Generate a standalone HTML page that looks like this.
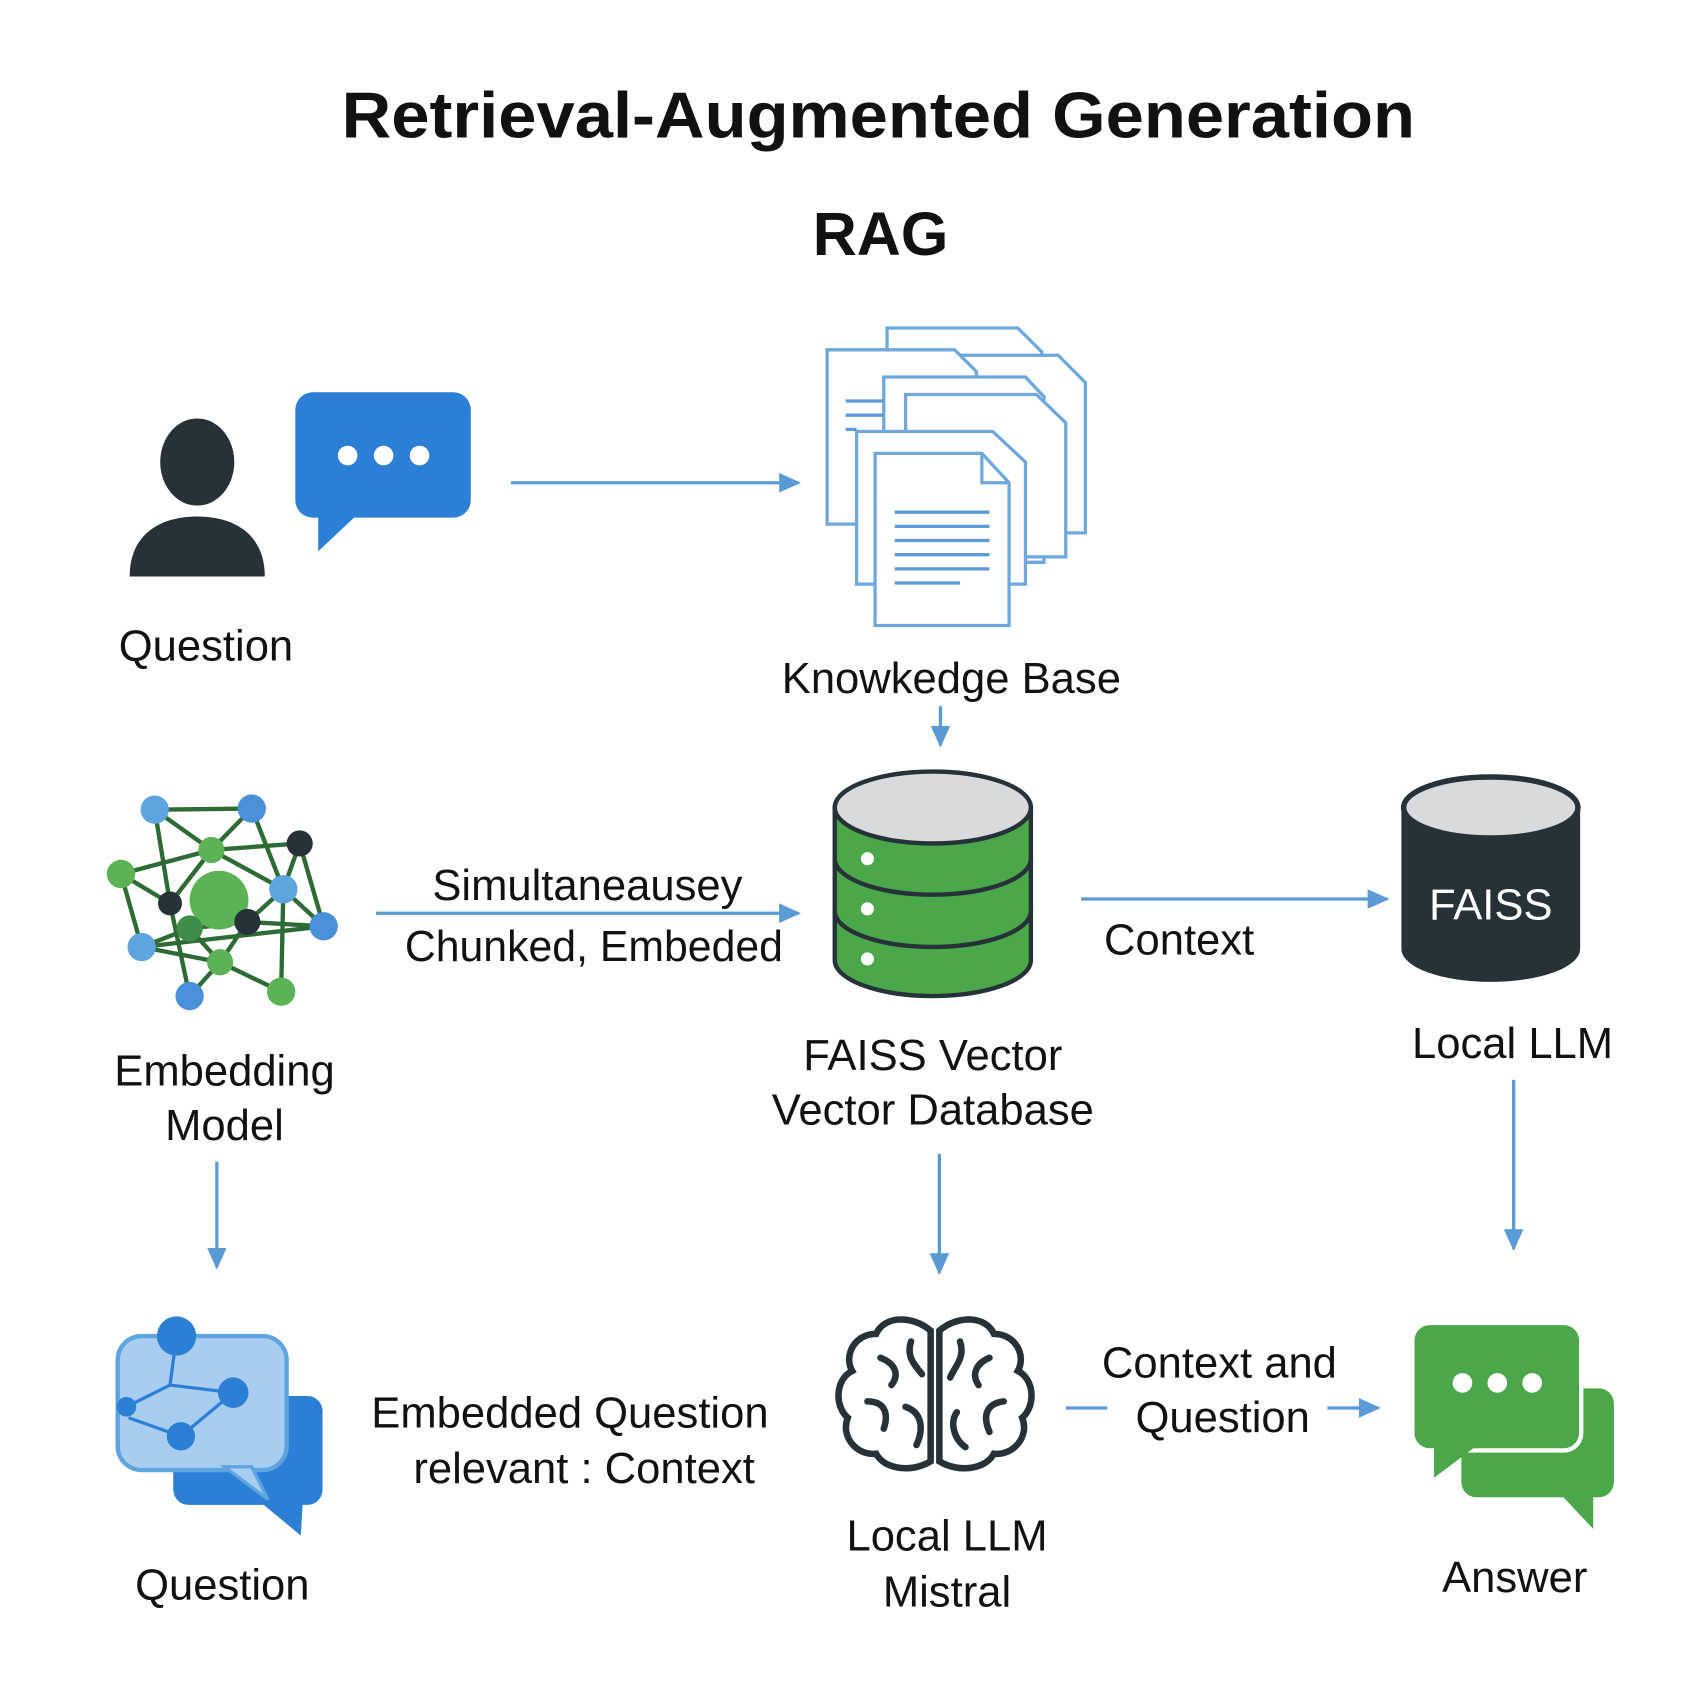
<!DOCTYPE html>
<html><head><meta charset="utf-8"><style>
html,body{margin:0;padding:0;background:#fff;}
svg{display:block;}
text{font-family:"Liberation Sans","DejaVu Sans",sans-serif;fill:#111;}
</style></head><body>
<svg width="1700" height="1700" viewBox="0 0 1560 1560" xmlns="http://www.w3.org/2000/svg">
<defs>
<marker id="ah" markerWidth="20" markerHeight="18" refX="18" refY="9" orient="auto" markerUnits="userSpaceOnUse" viewBox="0 0 20 18">
<path d="M0,0 L20,9 L0,18 z" fill="#5b9bd5"/></marker>
</defs>
<rect width="1560" height="1560" fill="#fff"/>
<g transform="translate(-4,-4)">
<text x="810" y="130" font-size="60" font-weight="bold" text-anchor="middle" textLength="985" lengthAdjust="spacingAndGlyphs">Retrieval-Augmented Generation</text>
<text x="812" y="238" font-size="56" font-weight="bold" text-anchor="middle">RAG</text>

<!-- person -->
<ellipse cx="185" cy="428" rx="34" ry="40" fill="#263238"/>
<path d="M123,533 C123,495 150,478 185,478 C220,478 247,495 247,533 z" fill="#263238"/>
<rect x="275" y="364" width="161" height="115" rx="16" fill="#2b7fd4"/>
<polygon points="296,476 332,476 296,510" fill="#2b7fd4"/>
<circle cx="323" cy="422" r="9" fill="#fff"/><circle cx="356" cy="422" r="9" fill="#fff"/><circle cx="389" cy="422" r="9" fill="#fff"/>
<text x="193" y="610" font-size="40" text-anchor="middle">Question</text>
<line x1="473" y1="447" x2="737" y2="447" stroke="#5b9bd5" stroke-width="3" marker-end="url(#ah)"/>

<!-- docs -->
<g fill="#fff" stroke="#6fa8dc" stroke-width="3">
<path d="M818,305 L938,305 L960,327 L960,470 L818,470 z"/>
<path d="M860,330 L975,330 L1000,355 L1000,493 L860,493 z"/>
<path d="M763,325 L880,325 L900,345 L900,485 L763,485 z"/>
<path d="M815,350 L945,350 L962,368 L962,520 L815,520 z"/>
<path d="M835,366 L955,366 L982,392 L982,515 L835,515 z"/>
<path d="M790,400 L915,400 L945,428 L945,540 L790,540 z"/>
<path d="M807,420 L905,420 L930,447 L930,578 L807,578 z"/>
<path d="M905,420 L905,447 L930,447" fill="none"/>
</g>
<g stroke="#5b9bd5" stroke-width="3">
<line x1="825" y1="474" x2="912" y2="474"/><line x1="825" y1="487" x2="912" y2="487"/>
<line x1="825" y1="500" x2="912" y2="500"/><line x1="825" y1="513" x2="912" y2="513"/>
<line x1="825" y1="526" x2="912" y2="526"/><line x1="825" y1="539" x2="885" y2="539"/>
<line x1="780" y1="372" x2="815" y2="372"/><line x1="780" y1="385" x2="815" y2="385"/><line x1="780" y1="398" x2="790" y2="398"/>
</g>
<text x="877" y="640" font-size="40" text-anchor="middle">Knowkedge Base</text>
<line x1="867" y1="652" x2="867" y2="688" stroke="#5b9bd5" stroke-width="3" marker-end="url(#ah)"/>

<!-- green db -->
<g stroke="#263238" stroke-width="4">
<path d="M770,745 L770,885 A90,33 0 0 0 950,885 L950,745 z" fill="#4aa84a"/>
<path d="M770,792 A90,33 0 0 0 950,792" fill="none"/>
<path d="M770,840 A90,33 0 0 0 950,840" fill="none"/>
<ellipse cx="860" cy="745" rx="90" ry="33" fill="#d9dadc"/>
</g>
<circle cx="800" cy="792" r="6" fill="#fff"/><circle cx="800" cy="838" r="6" fill="#fff"/><circle cx="800" cy="884" r="6" fill="#fff"/>
<text x="860" y="986" font-size="40" text-anchor="middle">FAISS Vector</text>
<text x="860" y="1036" font-size="40" text-anchor="middle">Vector Database</text>

<!-- network -->
<g stroke="#2e6b34" stroke-width="4">
<line x1="146" y1="747" x2="235" y2="746"/><line x1="146" y1="747" x2="198" y2="784"/><line x1="146" y1="747" x2="160" y2="833"/>
<line x1="235" y1="746" x2="198" y2="784"/><line x1="235" y1="746" x2="264" y2="820"/>
<line x1="198" y1="784" x2="279" y2="778"/><line x1="198" y1="784" x2="115" y2="806"/><line x1="198" y1="784" x2="264" y2="820"/><line x1="198" y1="784" x2="160" y2="833"/>
<line x1="279" y1="778" x2="301" y2="854"/><line x1="279" y1="778" x2="264" y2="820"/>
<line x1="115" y1="806" x2="160" y2="833"/><line x1="115" y1="806" x2="134" y2="873"/>
<line x1="264" y1="820" x2="231" y2="850"/><line x1="264" y1="820" x2="301" y2="854"/><line x1="264" y1="820" x2="262" y2="914"/>
<line x1="160" y1="833" x2="178" y2="918"/><line x1="178" y1="856" x2="231" y2="850"/><line x1="178" y1="856" x2="206" y2="887"/>
<line x1="231" y1="850" x2="301" y2="854"/><line x1="231" y1="850" x2="206" y2="887"/>
<line x1="134" y1="873" x2="206" y2="887"/><line x1="134" y1="873" x2="178" y2="856"/><line x1="134" y1="873" x2="301" y2="854"/>
<line x1="206" y1="887" x2="178" y2="918"/><line x1="206" y1="887" x2="262" y2="914"/>
</g>
<circle cx="205" cy="830" r="27" fill="#5cb356"/>
<circle cx="146" cy="747" r="13" fill="#5ea5e0"/><circle cx="235" cy="746" r="13" fill="#4a90d9"/>
<circle cx="279" cy="778" r="12" fill="#263238"/><circle cx="198" cy="784" r="12" fill="#5cb356"/>
<circle cx="115" cy="806" r="13" fill="#5cb356"/><circle cx="264" cy="820" r="13" fill="#5ea5e0"/>
<circle cx="160" cy="833" r="11" fill="#263238"/><circle cx="178" cy="856" r="12" fill="#3e8e47"/>
<circle cx="231" cy="850" r="12" fill="#263238"/><circle cx="301" cy="854" r="13" fill="#4a90d9"/>
<circle cx="134" cy="873" r="13" fill="#5ea5e0"/><circle cx="206" cy="887" r="12" fill="#5cb356"/>
<circle cx="178" cy="918" r="13" fill="#4a90d9"/><circle cx="262" cy="914" r="13" fill="#5cb356"/>
<text x="210" y="1000" font-size="40" text-anchor="middle">Embedding</text>
<text x="210" y="1050" font-size="40" text-anchor="middle">Model</text>

<line x1="349" y1="842" x2="737" y2="842" stroke="#5b9bd5" stroke-width="3" marker-end="url(#ah)"/>
<text x="543" y="830" font-size="40" text-anchor="middle">Simultaneausey</text>
<text x="549" y="886" font-size="40" text-anchor="middle" textLength="347" lengthAdjust="spacingAndGlyphs">Chunked, Embeded</text>
<line x1="203" y1="1070" x2="203" y2="1167" stroke="#5b9bd5" stroke-width="3" marker-end="url(#ah)"/>

<line x1="996" y1="829" x2="1277" y2="829" stroke="#5b9bd5" stroke-width="3" marker-end="url(#ah)"/>
<text x="1086" y="880" font-size="40" text-anchor="middle">Context</text>

<!-- FAISS dark -->
<path d="M1290,745 L1290,875 A82,30 0 0 0 1454,875 L1454,745 z" fill="#263238"/>
<ellipse cx="1372" cy="745" rx="80" ry="28" fill="#d9dadc" stroke="#263238" stroke-width="5"/>
<text x="1372" y="848" font-size="40" text-anchor="middle" style="fill:#fff">FAISS</text>
<text x="1392" y="975" font-size="40" text-anchor="middle">Local LLM</text>
<line x1="1393" y1="995" x2="1393" y2="1150" stroke="#5b9bd5" stroke-width="3" marker-end="url(#ah)"/>
<line x1="866" y1="1063" x2="866" y2="1172" stroke="#5b9bd5" stroke-width="3" marker-end="url(#ah)"/>

<!-- question bubble 2 -->
<rect x="163" y="1285" width="137" height="100" rx="14" fill="#2b7fd4"/>
<polygon points="240,1380 282,1380 280,1413" fill="#2b7fd4"/>
<rect x="112" y="1230" width="155" height="123" rx="22" fill="#a9cdf0" stroke="#5ea5e0" stroke-width="4"/>
<polygon points="210,1350 235,1350 250,1380" fill="#a9cdf0" stroke="#5ea5e0" stroke-width="3"/>
<g stroke="#2b7fd4" stroke-width="3" fill="none">
<path d="M166,1230 L160,1275 L120,1295 M160,1275 L218,1282 M218,1282 L170,1322 L122,1305"/>
</g>
<circle cx="166" cy="1230" r="18" fill="#2b7fd4"/><circle cx="218" cy="1282" r="14" fill="#2b7fd4"/>
<circle cx="170" cy="1322" r="13" fill="#2b7fd4"/><circle cx="120" cy="1295" r="9" fill="#2b7fd4"/>
<text x="208" y="1472" font-size="40" text-anchor="middle">Question</text>
<text x="527" y="1314" font-size="40" text-anchor="middle">Embedded Question</text>
<text x="540" y="1365" font-size="40" text-anchor="middle">relevant : Context</text>

<!-- brain -->
<g fill="none" stroke="#263238" stroke-width="6" stroke-linecap="round">
<path d="M858,1225 C840,1210 815,1212 808,1228 C788,1228 778,1248 786,1262 C770,1270 770,1295 782,1305 C775,1322 790,1340 808,1338 C815,1352 840,1356 858,1345 Z"/>
<path d="M866,1225 C884,1210 909,1212 916,1228 C936,1228 946,1248 938,1262 C954,1270 954,1295 942,1305 C949,1322 934,1340 916,1338 C909,1352 884,1356 866,1345 Z"/>
<path d="M840,1235 C835,1250 845,1258 850,1265 M812,1250 C825,1255 830,1265 822,1275 M800,1290 C815,1290 820,1300 815,1315 M835,1295 C850,1300 852,1315 845,1330"/>
<path d="M885,1235 C890,1250 880,1258 876,1268 M912,1250 C900,1255 895,1265 902,1275 M925,1290 C910,1292 905,1302 912,1318 M882,1300 C875,1310 880,1325 890,1332"/>
</g>
<text x="873" y="1427" font-size="40" text-anchor="middle">Local LLM</text>
<text x="873" y="1478" font-size="40" text-anchor="middle">Mistral</text>

<line x1="982" y1="1296" x2="1020" y2="1296" stroke="#5b9bd5" stroke-width="3"/>
<line x1="1222" y1="1296" x2="1269" y2="1296" stroke="#5b9bd5" stroke-width="3" marker-end="url(#ah)"/>
<text x="1123" y="1268" font-size="40" text-anchor="middle">Context and</text>
<text x="1126" y="1318" font-size="40" text-anchor="middle">Question</text>

<!-- answer bubbles -->
<rect x="1345" y="1278" width="140" height="100" rx="14" fill="#4aa84a"/>
<polygon points="1435,1374 1466,1374 1466,1407" fill="#4aa84a"/>
<rect x="1300" y="1218" width="155" height="117" rx="16" fill="#4aa84a" stroke="#fff" stroke-width="4"/>
<polygon points="1320,1330 1360,1330 1320,1360" fill="#4aa84a"/>
<circle cx="1346" cy="1273" r="9" fill="#fff"/><circle cx="1378" cy="1273" r="9" fill="#fff"/><circle cx="1410" cy="1273" r="9" fill="#fff"/>
<text x="1394" y="1465" font-size="40" text-anchor="middle">Answer</text>
</g>
</svg>
</body></html>
